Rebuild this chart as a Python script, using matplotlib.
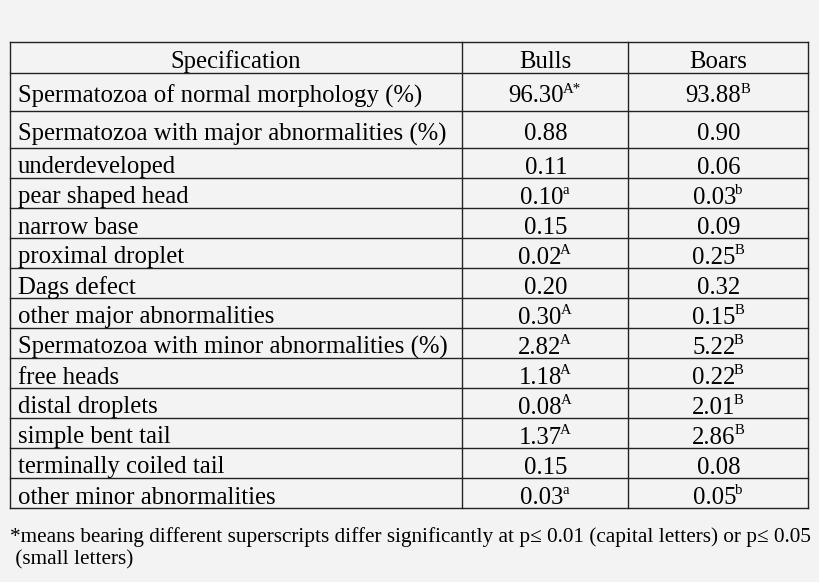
import matplotlib
matplotlib.use("Agg")
import matplotlib.pyplot as plt
from matplotlib.textpath import TextPath
from matplotlib.font_manager import FontProperties

header = ["Specification", "Bulls", "Boars"]
specs = ["Spermatozoa of normal morphology (%)", "Spermatozoa with major abnormalities (%)",
         "underdeveloped", "pear shaped head", "narrow base", "proximal droplet", "Dags defect",
         "other major abnormalities", "Spermatozoa with minor abnormalities (%)", "free heads",
         "distal droplets", "simple bent tail", "terminally coiled tail", "other minor abnormalities"]
bulls = ["96.30", "0.88", "0.11", "0.10", "0.15", "0.02", "0.20", "0.30", "2.82", "1.18", "0.08", "1.37", "0.15", "0.03"]
bulls_sup = ["A*", "", "", "a", "", "A", "", "A", "A", "A", "A", "A", "", "a"]
boars = ["93.88", "0.90", "0.06", "0.03", "0.09", "0.25", "0.32", "0.15", "5.22", "0.22", "2.01", "2.86", "0.08", "0.05"]
boars_sup = ["B", "", "", "b", "", "B", "", "B", "B", "B", "B", "B", "", "b"]
footnote = ["*means bearing different superscripts differ significantly at p\u2264 0.01 (capital letters) or p\u2264 0.05",
            " (small letters)"]

W, H = 820, 582
fig = plt.figure(figsize=(W/100, H/100), dpi=100, facecolor="#f3f3f3")
ax = fig.add_axes([0, 0, 1, 1])
ax.set_xlim(0, W); ax.set_ylim(H, 0); ax.axis("off")
fam = "Liberation Serif"
fs = 17.8

rows = [42, 73, 111, 148] + [148 + 30*i for i in range(1, 13)]
xs = [10, 462, 628, 808]
for y in rows:
    ax.plot([xs[0], xs[-1]], [y, y], color="#222", lw=1)
for x in xs:
    ax.plot([x, x], [rows[0], rows[-1]], color="#222", lw=1)

def centers(i):
    return (rows[i] + rows[i+1]) / 2 + 2

kw = dict(va="center_baseline", family=fam)
ax.text((xs[0]+xs[1])/2, centers(0), header[0], ha="center", fontsize=fs, **kw)
ax.text((xs[1]+xs[2])/2, centers(0), header[1], ha="center", fontsize=fs, **kw)
ax.text((xs[2]+xs[3])/2, centers(0), header[2], ha="center", fontsize=fs, **kw)

fp = FontProperties(family=fam, size=fs)
fps = FontProperties(family=fam, size=fs*0.6)
def width(s, p):
    if not s: return 0
    return TextPath((0, 0), s, prop=p).get_extents().width * 100/72 + 1

for i, s in enumerate(specs):
    yc = centers(i+1)
    ax.text(18, yc, s, ha="left", fontsize=fs, **kw)
    for col, vals, sups in ((1, bulls, bulls_sup), (2, boars, boars_sup)):
        v, sp = vals[i], sups[i]
        wv, ws = width(v, fp), width(sp, fps)
        x0 = (xs[col]+xs[col+1])/2 - (wv+ws)/2
        ax.text(x0, yc, v, ha="left", fontsize=fs, **kw)
        if sp:
            ax.text(x0+wv, yc-6, sp, ha="left", fontsize=fs*0.6, **kw)

ax.text(10, 535, footnote[0], ha="left", fontsize=15.3, **kw)
ax.text(10, 557, footnote[1], ha="left", fontsize=15.3, **kw)
fig.savefig("out.png", dpi=100, facecolor=fig.get_facecolor())
